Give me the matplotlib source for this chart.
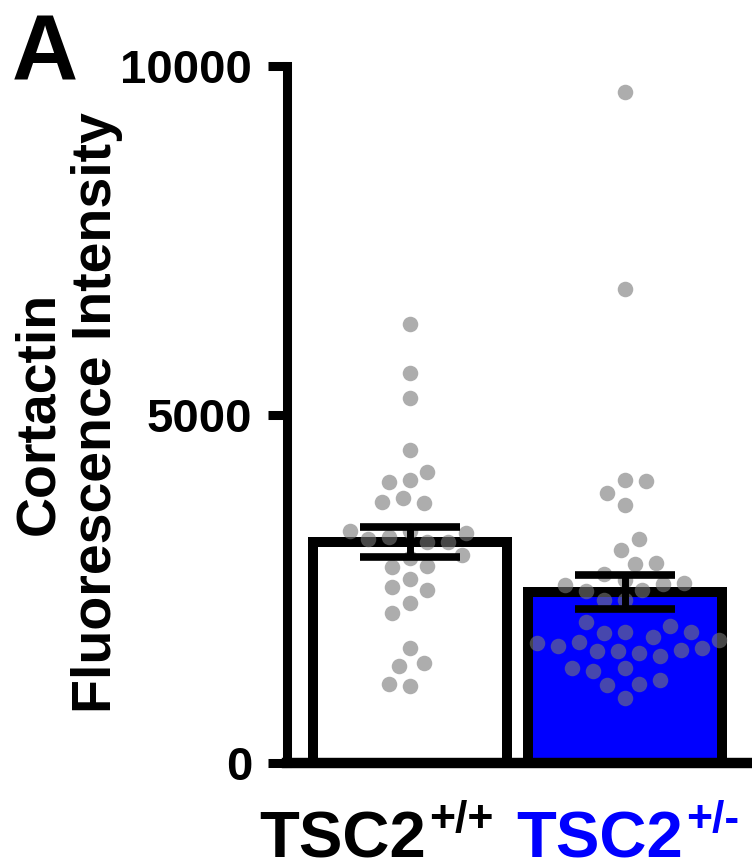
import numpy as np
import matplotlib
matplotlib.use("Agg")
import matplotlib.pyplot as plt
from matplotlib.transforms import ScaledTranslation, blended_transform_factory

plt.rcParams['font.family'] = ['Liberation Sans', 'DejaVu Sans']
plt.rcParams['font.weight'] = 'bold'

# ---------------- data ----------------
groups = ["TSC2", "TSC2"]
genotypes = ["+/+", "+/-"]
label_colors = ["#000000", "#0000FF"]
bar_faces = ["#FFFFFF", "#0000FF"]

wt_values = [6298, 5590, 5232, 4490, 4060, 4027, 4180, 3797, 3726, 3749,
             3329, 3247, 3175, 3175, 3209, 3295, 3329, 2946, 2817, 2831,
             2984, 2636, 2521, 2482, 2291, 2148, 1646, 1396, 1439, 1105, 1129]
het_values = [9633, 6807, 4048, 4060, 3878, 3703, 3214, 3052, 2870, 2858,
              2586, 2556, 2718, 2628, 2568, 2468, 2482, 2345, 2345, 2025,
              1966, 1874, 1862, 1765, 1722, 1645, 1674, 1740, 1802, 1874,
              1622, 1603, 1542, 1584, 1614, 1360, 1320, 1360, 1191, 1138,
              1119, 938]
yticks = [0, 5000, 10000]
ytick_labels = ["0", "5000", "10000"]
ylabel = "Cortactin\nFluorescence Intensity"
panel = "A"

series = [np.array(wt_values, float), np.array(het_values, float)]
means = [s.mean() for s in series]
sems = [s.std(ddof=1) / np.sqrt(len(s)) for s in series]

# ---------------- figure ----------------
W, H = 752, 867
fig = plt.figure(figsize=(W / 100, H / 100), dpi=100)
ax = fig.add_axes([287 / W, (H - 763) / H, 1 - 287 / W, (763 - 66) / H])
ax.set_xlim(-0.572, 1.591)
ax.set_ylim(0, 10000)

xpos = np.arange(len(groups))
ax.bar(xpos, means, width=0.905, color=bar_faces, edgecolor="black",
       linewidth=7.2, zorder=1)


# swarm placement in pixel space: try a few orders/steps, keep the narrowest
def place(ys, order, d, step):
    placed = []
    offs = np.zeros(len(ys))
    cands = [0.0]
    for j in range(1, 60):
        cands += [-j * step, j * step]
    for i in order:
        y = ys[i]
        for c in cands:
            if all((c - px) ** 2 + (y - py) ** 2 >= d * d for px, py in placed):
                break
        placed.append((c, y))
        offs[i] = c
    return offs


def swarm(x0, vals, d=19.0):
    pts = ax.transData.transform(np.column_stack([np.full(len(vals), x0), vals]))
    ys = pts[:, 1]
    n = len(ys)
    med = np.median(ys)
    orders = [np.argsort(ys), np.argsort(-ys), np.arange(n), np.arange(n)[::-1],
              np.argsort(np.abs(ys - med))]
    best = None
    for order in orders:
        for step in (10.5, 7.0, 5.25, 3.5):
            offs = place(ys, order, d, step)
            score = np.abs(offs).max() + 0.01 * np.abs(offs).sum()
            if best is None or score < best[0]:
                best = (score, offs)
    offs = best[1]
    disp = np.column_stack([pts[:, 0] + offs, ys])
    return ax.transData.inverted().transform(disp)


for x0, vals in zip(xpos, series):
    xy = swarm(x0, vals)
    ax.scatter(xy[:, 0], xy[:, 1], s=125, color="#777777", alpha=0.6,
               linewidths=0, zorder=3)

ax.errorbar(xpos, means, yerr=sems, fmt="none", ecolor="black",
            elinewidth=5, capsize=36, capthick=5.5, zorder=4)

for s in ["top", "right"]:
    ax.spines[s].set_visible(False)
ax.spines["left"].set_linewidth(6.5)
ax.spines["bottom"].set_linewidth(7.5)
ax.spines["left"].set_bounds(0, 10000)

ax.set_yticks(yticks)
ax.set_yticklabels(ytick_labels)
ax.tick_params(axis="y", length=14, width=6.5, pad=11, labelsize=34)
ax.set_xticks([])
for t in ax.get_yticklabels():
    t.set_fontweight("bold")

# x labels
base = blended_transform_factory(ax.transData, fig.transFigure)
shifts = [-0.67, -0.25]
for x0, g, gt, c, sh in zip(xpos, groups, genotypes, label_colors, shifts):
    tr = base + ScaledTranslation(sh, 0, fig.dpi_scale_trans)
    t = ax.text(x0, 9 / H, g, transform=tr, ha="center", va="baseline",
                fontsize=47, fontweight="bold", color=c, clip_on=False)
    ax.annotate(gt, xy=(1, 1), xycoords=t, xytext=(2, 8),
                textcoords="offset points", ha="left", va="top",
                fontsize=32, fontweight="bold", color=c,
                annotation_clip=False)

fig.text(68 / W, (H - 413) / H, ylabel, rotation=90, ha="center", va="center",
         fontsize=40, fontweight="bold", multialignment="center",
         linespacing=1.15)
fig.text(12 / W, (H - 80) / H, panel, ha="left", va="baseline",
         fontsize=66, fontweight="bold")

fig.savefig("out.png", dpi=100)
